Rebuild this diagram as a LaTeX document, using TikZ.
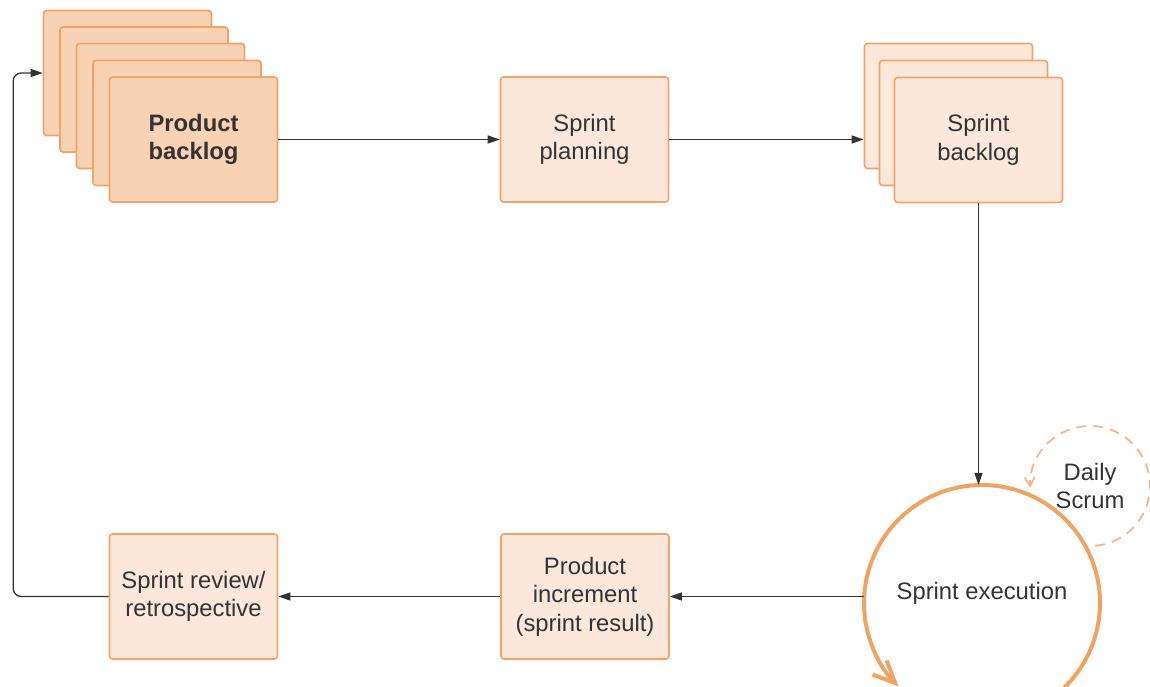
\documentclass[tikz,border=0pt]{standalone}
\usepackage{fontspec}
\setmainfont{Liberation Sans}
\usetikzlibrary{arrows.meta}

\definecolor{cardline}{HTML}{EFA46A}
\definecolor{cardfill}{HTML}{FCE8DA}
\definecolor{cardfilldark}{HTML}{F8D2B4}
\definecolor{loopline}{HTML}{F0A464}
\definecolor{scrumline}{HTML}{F2B68A}
\definecolor{ink}{HTML}{333333}

\begin{document}
\begin{tikzpicture}[x=1pt,y=1pt,
  caption/.style={text=ink, align=center, font=\fontsize{23.8}{28.5}\selectfont},
  card/.style={caption, draw=cardline, line width=1.6pt, fill=cardfill, rounded corners=3pt,
    minimum width=168pt, minimum height=125pt},
  darkcard/.style={card, fill=cardfilldark, font=\fontsize{23.8}{28.5}\selectfont\bfseries},
  flow/.style={draw=ink, line width=1.3pt, -{Triangle[length=12pt, width=8pt]}}]
\useasboundingbox (0,0) rectangle (1150,687);
\clip (0,0) rectangle (1150,687);

% product backlog, a stack of cards
\node[darkcard] (pb4) at (127.5,614) {};
\node[darkcard] (pb3) at (144,597.5) {};
\node[darkcard] (pb2) at (160.5,581) {};
\node[darkcard] (pb1) at (177,564) {};
\node[darkcard] (pb) at (193.5,547.5) {Product\\backlog};

\node[card] (plan) at (584.5,547.5) {Sprint\\planning};

% sprint backlog, a smaller stack
\node[card] (sb2) at (948.5,581) {};
\node[card] (sb1) at (963.5,564) {};
\node[card] (sb) at (978.5,547) {Sprint\\backlog};

% sprint execution loop
\node[circle, minimum size=236pt, inner sep=0pt, outer sep=0pt] (exec) at (982,84) {};
\node[caption] (execlbl) at (982,94) {Sprint execution};
\draw[loopline, line width=4pt, -{Straight Barb[length=22pt, width=20pt]}]
  (exec.-50) arc[start angle=-50, end angle=225, radius=118pt];

% daily scrum loop
\node[caption, circle, minimum size=120pt, inner sep=0pt, outer sep=0pt] (daily) at (1090,201) {Daily\\Scrum};
\draw[scrumline, line width=1.8pt, dash pattern=on 10pt off 7pt, -{Straight Barb[length=9pt, width=10pt]}]
  (daily.-85) arc[start angle=-85, end angle=182, radius=60pt];

\node[card] (inc) at (585,90.5) {Product\\increment\\(sprint result)};
\node[card] (rev) at (193.5,90.5) {Sprint review/\\retrospective};

% connectors
\draw[flow] (pb.east) -- (plan.west);
\draw[flow] (plan.east) -- (plan.east -| sb2.west);
\draw[flow] (sb.south) -- (sb.south |- exec.north);
\draw[flow] (inc.east -| exec.west) -- (inc.east);
\draw[flow] (inc.west) -- (rev.east);
\draw[flow, rounded corners=8pt] (rev.west) -- ++(-95.5,0) |- (pb4.west);
\end{tikzpicture}
\end{document}
